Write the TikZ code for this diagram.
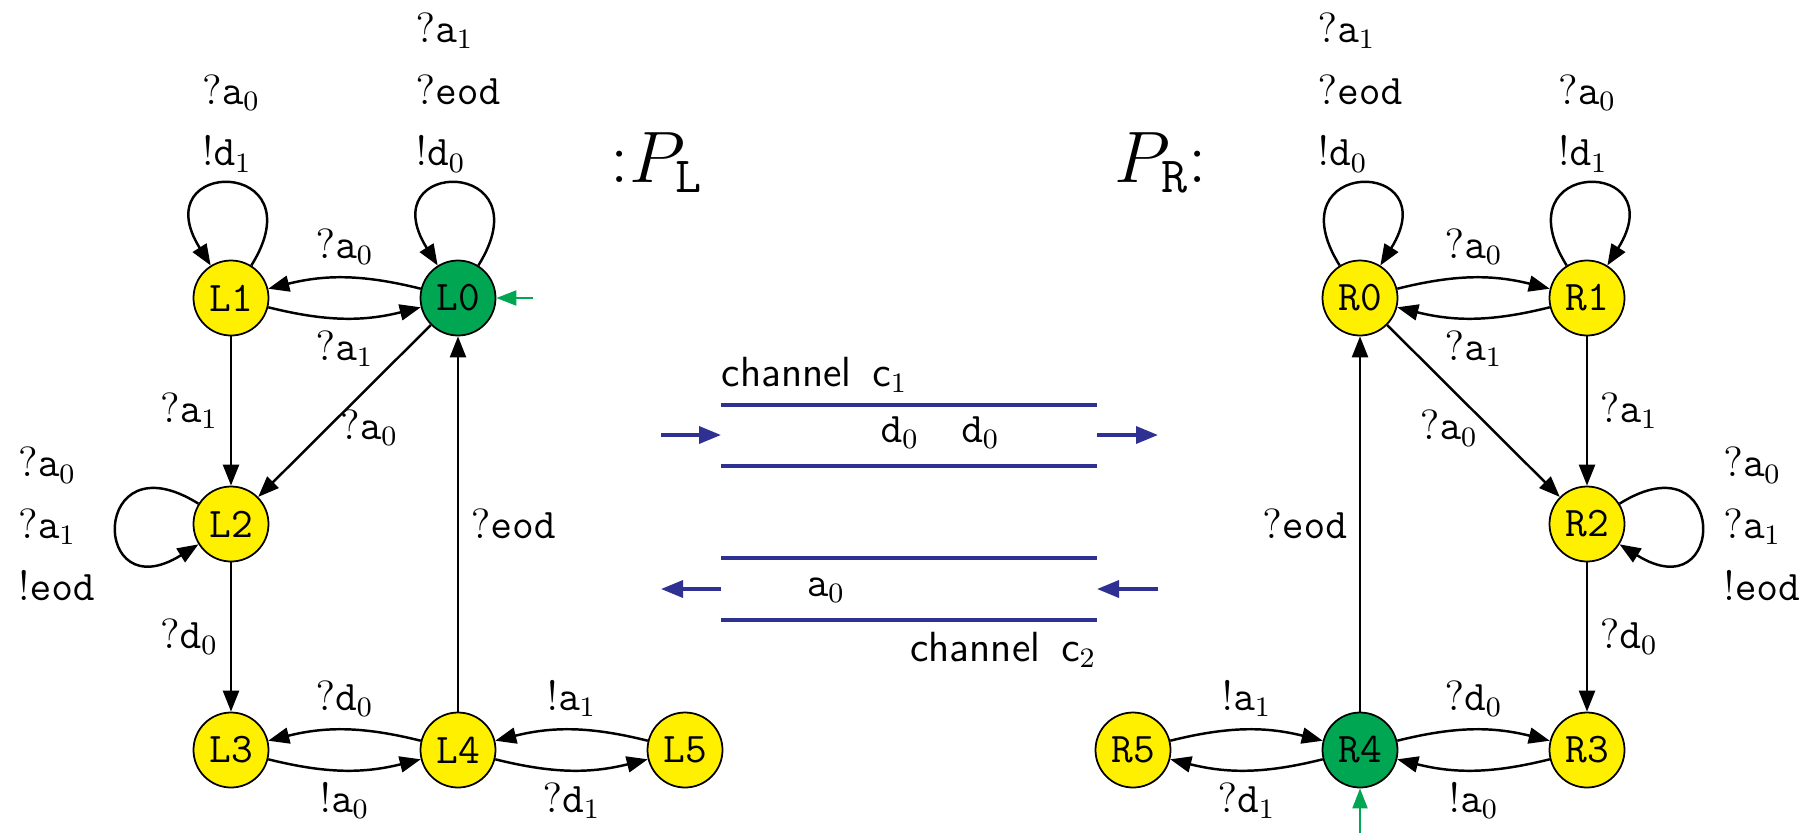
\documentclass[tikz,border=0pt]{standalone}
\usetikzlibrary{arrows.meta}

\definecolor{stateyellow}{HTML}{FFF000}
\definecolor{stategreen}{HTML}{00A651}
\definecolor{chanblue}{HTML}{2E3192}

\tikzset{
  state/.style={circle, draw, line width=0.5pt, fill=stateyellow, minimum size=7.5mm, inner sep=0pt, font=\large\ttfamily},
  initstate/.style={state, fill=stategreen},
  trans/.style={line width=0.7pt, -{Triangle[length=2.1mm,width=1.6mm]}},
  initarr/.style={stategreen, line width=0.6pt, -{Triangle[length=2mm,width=1.5mm]}},
  lbl/.style={font=\large},
  looplbl/.style={font=\large, align=left, inner sep=3pt},
  chan/.style={chanblue, line width=1pt},
  chanarr/.style={chan, -{Triangle[length=2.2mm,width=1.7mm]}},
}

\begin{document}
\begin{tikzpicture}
  \useasboundingbox (0,0) rectangle (18.18,8.33);

  % process P_L
  \node[state]     (L1) at (2.31,5.35) {L1};
  \node[initstate] (L0) at (4.58,5.35) {L0};
  \node[state]     (L2) at (2.31,3.09) {L2};
  \node[state]     (L3) at (2.31,0.83) {L3};
  \node[state]     (L4) at (4.58,0.83) {L4};
  \node[state]     (L5) at (6.85,0.83) {L5};
  \node[font=\huge, anchor=base] (PL) at (6.57,6.51) {:$P_{\mathtt{L}}$};

  \draw[trans] (L1) to[out=58,in=122,distance=1.28cm] node[looplbl, above] {$?\mathtt{a}_0$\\[3.6pt]$!\mathtt{d}_1$} (L1);
  \draw[trans] (L0) to[out=58,in=122,distance=1.28cm] node[looplbl, above] {$?\mathtt{a}_1$\\[3.6pt]$?\mathtt{eod}$\\[3.6pt]$!\mathtt{d}_0$} (L0);
  \draw[trans] (L2) to[out=148,in=212,distance=1.28cm] node[looplbl, left=3pt] {$?\mathtt{a}_0$\\[3.6pt]$?\mathtt{a}_1$\\[3.6pt]$!\mathtt{eod}$} (L2);
  \draw[trans] (L0) to[bend right=14] node[lbl, above] {$?\mathtt{a}_0$} (L1);
  \draw[trans] (L1) to[bend right=14] node[lbl, below] {$?\mathtt{a}_1$} (L0);
  \draw[trans] (L1) -- node[lbl, left] {$?\mathtt{a}_1$} (L2);
  \draw[trans] (L0) -- node[lbl, pos=.6, right] {$?\mathtt{a}_0$} (L2);
  \draw[trans] (L2) -- node[lbl, left] {$?\mathtt{d}_0$} (L3);
  \draw[trans] (L4) -- node[lbl, right] {$?\mathtt{eod}$} (L0);
  \draw[trans] (L4) to[bend right=14] node[lbl, above] {$?\mathtt{d}_0$} (L3);
  \draw[trans] (L3) to[bend right=14] node[lbl, below] {$!\mathtt{a}_0$} (L4);
  \draw[trans] (L5) to[bend right=14] node[lbl, above] {$!\mathtt{a}_1$} (L4);
  \draw[trans] (L4) to[bend right=14] node[lbl, below] {$?\mathtt{d}_1$} (L5);
  \coordinate (L0init) at (5.33,5.35);
  \draw[initarr] (L0init) -- (L0);

  % process P_R
  \node[state]     (R0) at (13.60,5.35) {R0};
  \node[state]     (R1) at (15.87,5.35) {R1};
  \node[state]     (R2) at (15.87,3.09) {R2};
  \node[state]     (R3) at (15.87,0.83) {R3};
  \node[initstate] (R4) at (13.60,0.83) {R4};
  \node[state]     (R5) at (11.33,0.83) {R5};
  \node[font=\huge, anchor=base] (PR) at (11.61,6.51) {$P_{\mathtt{R}}$:};

  \draw[trans] (R0) to[out=122,in=58,distance=1.28cm] node[looplbl, above] {$?\mathtt{a}_1$\\[3.6pt]$?\mathtt{eod}$\\[3.6pt]$!\mathtt{d}_0$} (R0);
  \draw[trans] (R1) to[out=122,in=58,distance=1.28cm] node[looplbl, above] {$?\mathtt{a}_0$\\[3.6pt]$!\mathtt{d}_1$} (R1);
  \draw[trans] (R2) to[out=32,in=-32,distance=1.28cm] node[looplbl, right=3pt] {$?\mathtt{a}_0$\\[3.6pt]$?\mathtt{a}_1$\\[3.6pt]$!\mathtt{eod}$} (R2);
  \draw[trans] (R0) to[bend left=14] node[lbl, above] {$?\mathtt{a}_0$} (R1);
  \draw[trans] (R1) to[bend left=14] node[lbl, below] {$?\mathtt{a}_1$} (R0);
  \draw[trans] (R1) -- node[lbl, right] {$?\mathtt{a}_1$} (R2);
  \draw[trans] (R0) -- node[lbl, pos=.6, left] {$?\mathtt{a}_0$} (R2);
  \draw[trans] (R2) -- node[lbl, right] {$?\mathtt{d}_0$} (R3);
  \draw[trans] (R4) -- node[lbl, left] {$?\mathtt{eod}$} (R0);
  \draw[trans] (R4) to[bend left=14] node[lbl, above] {$?\mathtt{d}_0$} (R3);
  \draw[trans] (R3) to[bend left=14] node[lbl, below] {$!\mathtt{a}_0$} (R4);
  \draw[trans] (R5) to[bend left=14] node[lbl, above] {$!\mathtt{a}_1$} (R4);
  \draw[trans] (R4) to[bend left=14] node[lbl, below] {$?\mathtt{d}_1$} (R5);
  \coordinate (R4init) at (13.60,0);
  \draw[initarr] (R4init) -- (R4);

  % channel c1 - d messages, left to right
  \draw[chan] (7.21,4.28) -- (10.97,4.28);
  \draw[chan] (7.21,3.67) -- (10.97,3.67);
  \coordinate (c1a) at (6.61,3.98);
  \coordinate (c1b) at (7.21,3.98);
  \coordinate (c1c) at (10.97,3.98);
  \coordinate (c1d) at (11.58,3.98);
  \draw[chanarr] (c1a) -- (c1b);
  \draw[chanarr] (c1c) -- (c1d);
  \node[lbl, inner sep=0pt, anchor=base west] (c1name) at (7.21,4.47) {\textsf{channel}\enspace$\mathsf{c}_1$};
  \node[lbl, inner sep=0pt, anchor=base west] (c1msg) at (8.80,3.91) {$\mathtt{d}_0\quad\mathtt{d}_0$};

  % channel c2 - a messages, right to left
  \draw[chan] (7.21,2.75) -- (10.97,2.75);
  \draw[chan] (7.21,2.13) -- (10.97,2.13);
  \coordinate (c2a) at (11.58,2.44);
  \coordinate (c2b) at (10.97,2.44);
  \coordinate (c2c) at (7.21,2.44);
  \coordinate (c2d) at (6.61,2.44);
  \draw[chanarr] (c2a) -- (c2b);
  \draw[chanarr] (c2c) -- (c2d);
  \node[lbl, inner sep=0pt, anchor=base west] (c2msg) at (8.06,2.37) {$\mathtt{a}_0$};
  \node[lbl, inner sep=0pt, anchor=base east] (c2name) at (10.97,1.72) {\textsf{channel}\enspace$\mathsf{c}_2$};
\end{tikzpicture}
\end{document}
